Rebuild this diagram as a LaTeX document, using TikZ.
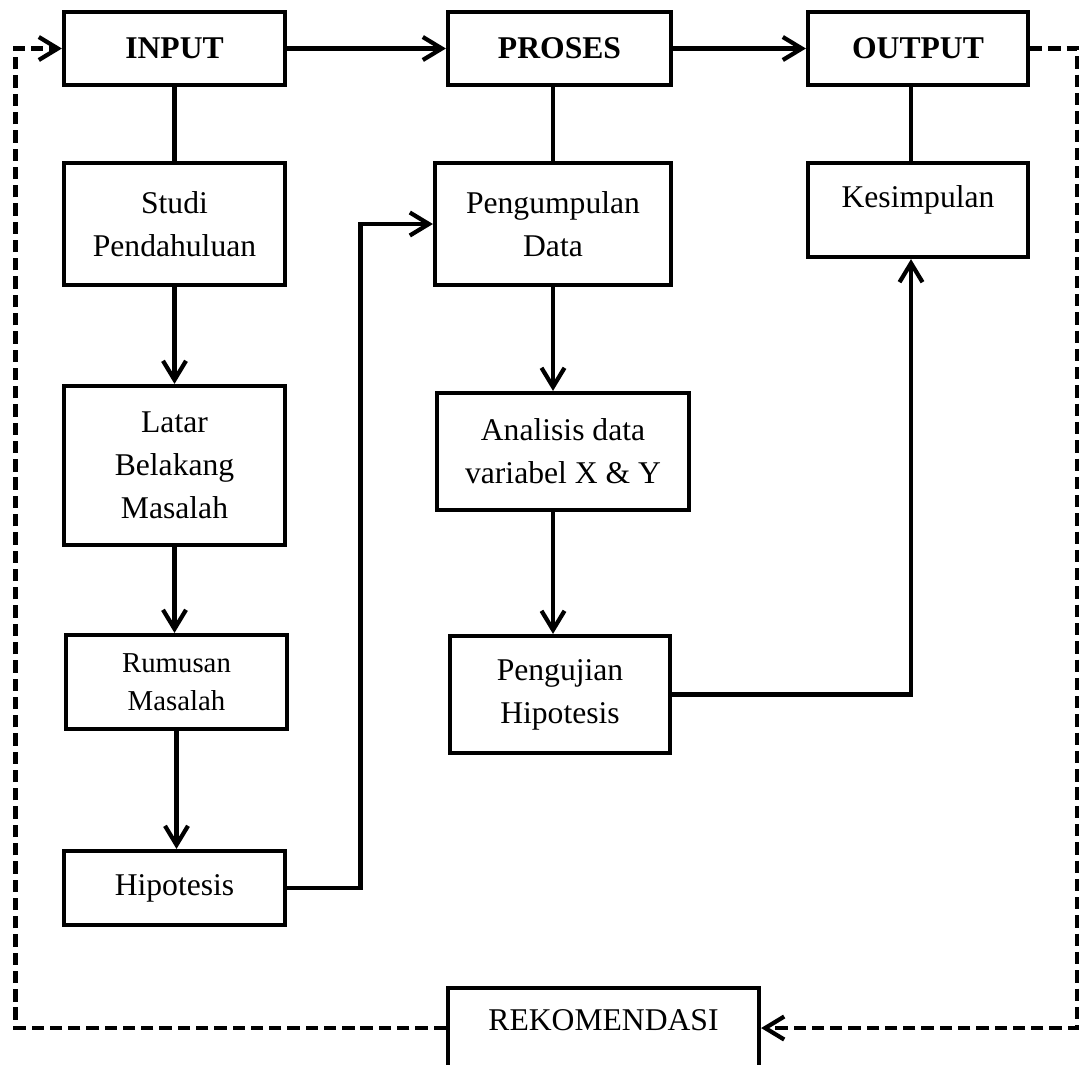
\documentclass[tikz,border=0pt]{standalone}
\usepackage{fontspec}
\setmainfont{Liberation Serif}
\usetikzlibrary{arrows.meta}
\tikzset{
  kotak/.style={draw, line width=1.2pt, align=center, inner sep=0pt,
    font=\fontsize{9}{12.2}\selectfont},
  judul/.style={kotak, font=\fontsize{9}{12.2}\selectfont\bfseries},
  garis/.style={line width=1.2pt},
  panah/.style={garis, -{Straight Barb[length=1.9mm,width=2.3mm]}},
  putus/.style={panah, dash pattern=on 3.5pt off 1.7pt},
}
\begin{document}
\begin{tikzpicture}
  \useasboundingbox (0,0) rectangle (10.81,10.64);
  % baris judul
  \node[judul, minimum width=2.21cm, minimum height=0.73cm] (input)  at (1.745,10.155) {INPUT};
  \node[judul, minimum width=2.23cm, minimum height=0.73cm] (proses) at (5.595,10.155) {PROSES};
  \node[judul, minimum width=2.20cm, minimum height=0.73cm] (output) at (9.18,10.155)  {OUTPUT};
  % kolom input
  \node[kotak, minimum width=2.21cm, minimum height=1.22cm] (studi) at (1.745,8.40) {Studi\\ Pendahuluan};
  \node[kotak, minimum width=2.21cm, minimum height=1.59cm] (latar) at (1.745,5.985) {Latar\\ Belakang\\ Masalah};
  \node[kotak, minimum width=2.21cm, minimum height=0.94cm,
        font=\fontsize{8.2}{10.8}\selectfont] (rumusan) at (1.765,3.82) {Rumusan\\ Masalah};
  \node[kotak, minimum width=2.21cm, minimum height=0.74cm] (hipotesis) at (1.745,1.76) {Hipotesis};
  % kolom proses
  \node[kotak, minimum width=2.36cm, minimum height=1.22cm] (kumpul) at (5.53,8.40) {Pengumpulan\\ Data};
  \node[kotak, minimum width=2.52cm, minimum height=1.17cm] (analisis) at (5.63,6.125) {Analisis data\\ variabel X \& Y};
  \node[kotak, minimum width=2.20cm, minimum height=1.17cm] (uji) at (5.60,3.695) {Pengujian\\ Hipotesis};
  % kolom output
  \node[kotak, minimum width=2.20cm, minimum height=0.94cm, text depth=7.7pt] (simpul) at (9.18,8.54) {Kesimpulan};
  % umpan balik
  \node[kotak, minimum width=3.11cm, minimum height=0.80cm, text depth=4.5pt] (rekom) at (6.035,0.36) {REKOMENDASI};
  \coordinate (kiri)  at (0.155,5.0);
  \coordinate (kanan) at (10.77,5.0);
  \coordinate (belok) at (3.605,5.0);
  % alur utama
  \draw[panah] (input) -- (proses);
  \draw[panah] (proses) -- (output);
  \draw[garis] (input) -- (studi);
  \draw[garis] (kumpul.north |- proses.south) -- (kumpul.north);
  \draw[garis] ([xshift=-0.07cm]output.south) -- ([xshift=-0.07cm]simpul.north);
  \draw[panah] (studi) -- (latar);
  \draw[panah] (latar.south) -- (latar.south |- rumusan.north);
  \draw[panah] (rumusan.south) -- (rumusan.south |- hipotesis.north);
  \draw[panah] (hipotesis.east) -| (belok) |- (kumpul.west);
  \draw[panah] (kumpul.south) -- (kumpul.south |- analisis.north);
  \draw[panah] (kumpul.south |- analisis.south) -- (kumpul.south |- uji.north);
  \draw[panah] (uji.east) -| ([xshift=-0.07cm]simpul.south);
  % garis putus-putus
  \draw[putus] (rekom.west) -| (kiri) |- (input.west);
  \draw[putus] (output.east) -| (kanan) |- (rekom.east);
\end{tikzpicture}
\end{document}
